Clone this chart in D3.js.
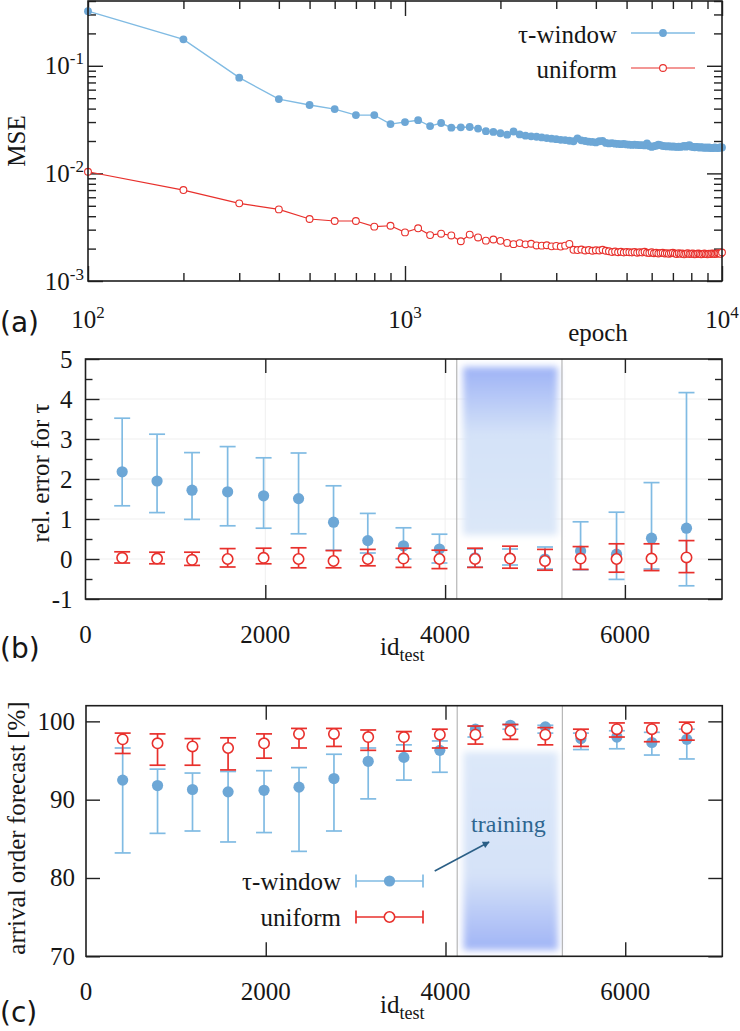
<!DOCTYPE html>
<html>
<head>
<meta charset="utf-8">
<script src="https://d3js.org/d3.v7.min.js"></script>
<style>
  body { margin: 0; background: #fff; }
  svg { display: block; }
</style>
</head>
<body>
<svg id="chart" width="740" height="1031"></svg>
<script>
// ---- panel (a): MSE vs epoch ----
var epochs = [
	100, 200, 300, 400, 500, 600, 700, 800, 900, 1000,
	1100, 1200, 1300, 1400, 1500, 1600, 1700, 1800, 1900, 2000,
	2100, 2200, 2300, 2400, 2500, 2600, 2700, 2800, 2900, 3000,
	3100, 3200, 3300, 3400, 3500, 3600, 3700, 3800, 3900, 4000,
	4100, 4200, 4300, 4400, 4500, 4600, 4700, 4800, 4900, 5000,
	5100, 5200, 5300, 5400, 5500, 5600, 5700, 5800, 5900, 6000,
	6100, 6200, 6300, 6400, 6500, 6600, 6700, 6800, 6900, 7000,
	7100, 7200, 7300, 7400, 7500, 7600, 7700, 7800, 7900, 8000,
	8100, 8200, 8300, 8400, 8500, 8600, 8700, 8800, 8900, 9000,
	9100, 9200, 9300, 9400, 9500, 9600, 9700, 9800, 9900, 10000
];
var mseWindow = [
	0.322, 0.176, 0.0775, 0.049, 0.0432, 0.0396, 0.0348, 0.0348, 0.0287, 0.0300,
	0.0312, 0.0275, 0.0294, 0.0266, 0.0268, 0.0270, 0.0261, 0.0247, 0.0243, 0.0236,
	0.0229, 0.0245, 0.0230, 0.0224, 0.0221, 0.0219, 0.0216, 0.0213, 0.0210, 0.0208,
	0.0205, 0.0204, 0.0201, 0.0199, 0.0212, 0.0203, 0.0200, 0.0197, 0.0196, 0.0194,
	0.0199, 0.0200, 0.0192, 0.0190, 0.0191, 0.0189, 0.0188, 0.0187, 0.0188, 0.0186,
	0.0185, 0.0184, 0.0185, 0.0184, 0.0183, 0.0183, 0.0182, 0.0190, 0.0180, 0.0176,
	0.0179, 0.0181, 0.0185, 0.0183, 0.0180, 0.0179, 0.0178, 0.0179, 0.0177, 0.0178,
	0.0177, 0.0176, 0.0177, 0.0176, 0.0178, 0.0180, 0.0177, 0.0181, 0.0183, 0.0177,
	0.0176, 0.0175, 0.0176, 0.0175, 0.0174, 0.0175, 0.0174, 0.0173, 0.0174, 0.0173,
	0.0174, 0.0172, 0.0173, 0.0172, 0.0174, 0.0173, 0.0172, 0.0173, 0.0175, 0.0174
];
var mseUniform = [
	0.01035, 0.0070, 0.00527, 0.00463, 0.00377, 0.00361, 0.00361, 0.00320, 0.00326, 0.00283,
	0.00309, 0.00267, 0.00275, 0.00265, 0.00234, 0.00270, 0.00254, 0.00237, 0.00243, 0.00236,
	0.00226, 0.00220, 0.00225, 0.00219, 0.00222, 0.00214, 0.00213, 0.00215, 0.00210, 0.00212,
	0.00209, 0.00213, 0.00221, 0.00195, 0.00194, 0.00196, 0.00192, 0.00194, 0.00191, 0.00193,
	0.00192, 0.00195, 0.00191, 0.00189, 0.00186, 0.00188, 0.00185, 0.00187, 0.00184, 0.00186,
	0.00185, 0.00184, 0.00186, 0.00183, 0.00185, 0.00184, 0.00187, 0.00183, 0.00182, 0.00185,
	0.00181, 0.00183, 0.00180, 0.00182, 0.00183, 0.00180, 0.00181, 0.00179, 0.00181, 0.00183,
	0.00180, 0.00178, 0.00181, 0.00179, 0.00180, 0.00177, 0.00179, 0.00181, 0.00178, 0.00179,
	0.00180, 0.00177, 0.00178, 0.00180, 0.00179, 0.00177, 0.00178, 0.00180, 0.00178, 0.00177,
	0.00179, 0.00178, 0.00180, 0.00179, 0.00178, 0.00179, 0.00181, 0.00180, 0.00179, 0.00184
];

// ---- panels (b) and (c): per test-bin results ----
var idTest = [408, 796, 1185, 1581, 1981, 2370, 2759, 3140, 3537, 3937, 4333, 4722, 5111, 5507, 5907, 6296, 6685];

var relWinMean = [2.18, 1.95, 1.72, 1.68, 1.58, 1.51, 0.92, 0.46, 0.33, 0.25, 0.03, 0.02, 0.00, 0.20, 0.12, 0.52, 0.77];
var relWinLo   = [1.33, 1.16, 0.99, 0.83, 0.77, 0.63, 0.22, 0.15, 0.00, -0.10, -0.20, -0.15, -0.25, -0.27, -0.51, -0.25, -0.67];
var relWinHi   = [3.52, 3.12, 2.66, 2.81, 2.53, 2.65, 1.83, 1.14, 0.78, 0.62, 0.25, 0.25, 0.30, 0.93, 1.17, 1.91, 4.16];
var relUniMean = [0.03, 0.01, -0.02, 0.00, 0.03, 0.00, -0.05, 0.00, 0.01, 0.00, 0.00, 0.01, -0.05, 0.01, 0.00, 0.01, 0.04];
var relUniLo   = [-0.10, -0.12, -0.16, -0.20, -0.12, -0.22, -0.22, -0.17, -0.21, -0.24, -0.21, -0.23, -0.28, -0.26, -0.33, -0.29, -0.34];
var relUniHi   = [0.18, 0.17, 0.17, 0.26, 0.27, 0.28, 0.21, 0.24, 0.27, 0.22, 0.27, 0.32, 0.24, 0.31, 0.38, 0.38, 0.46];

var aofWinMean = [92.5, 91.8, 91.3, 91.0, 91.2, 91.6, 92.7, 94.9, 95.4, 96.3, 99.0, 99.5, 99.3, 97.8, 98.0, 97.3, 97.7];
var aofWinLo   = [83.2, 85.7, 86.0, 84.6, 85.8, 83.4, 86.0, 90.1, 92.5, 93.5, 98.0, 99.0, 98.5, 96.4, 96.5, 95.7, 95.2];
var aofWinHi   = [96.6, 93.9, 93.4, 93.6, 93.7, 94.1, 95.8, 96.6, 97.0, 97.5, 99.4, 99.6, 99.5, 98.5, 98.8, 98.6, 99.0];
var aofUniMean = [97.7, 97.2, 96.8, 96.6, 97.2, 98.4, 98.4, 98.0, 98.0, 98.3, 98.3, 98.8, 98.3, 98.3, 99.0, 99.0, 99.1];
var aofUniLo   = [95.9, 94.4, 94.4, 93.8, 95.3, 96.6, 96.8, 96.3, 96.2, 96.6, 97.1, 97.7, 97.0, 96.8, 98.0, 97.4, 97.6];
var aofUniHi   = [98.5, 98.4, 97.8, 97.9, 98.4, 99.1, 99.1, 98.9, 98.7, 99.0, 99.4, 99.6, 99.2, 99.0, 99.8, 99.8, 99.9];

// training window (id range) and the shaded box inside it
var trainRange = [4130, 5300];
var trainBoxX = [4200, 5250];
var trainBoxB = [0.6, 4.8];
var trainBoxC = [70.8, 96.1];

var xTicksBC = [0, 2000, 4000, 6000];
var yTicksB = [-1, 0, 1, 2, 3, 4, 5];
var yTicksC = [70, 80, 90, 100];

var BLUE = '#6da7d6', BLUE_LINE = '#80bbe3', RED = '#e8302c';
var FS = 25;
var SERIF = '"Liberation Serif", "Times New Roman", "DejaVu Serif", serif';
var SANS = '"DejaVu Sans", sans-serif';

var svg = d3.select( '#chart' );
svg.append( 'rect' ).attr( 'width', 740 ).attr( 'height', 1031 ).attr( 'fill', '#fff' );

// every label goes through here so the font is set on the element itself
function label( g, x, y, str, anchor, size ) {
	return g.append( 'text' ).attr( 'x', x ).attr( 'y', y )
		.attr( 'text-anchor', anchor || 'start' )
		.attr( 'font-family', SERIF ).attr( 'font-size', ( size || FS ) + 'px' )
		.attr( 'fill', '#161616' )
		.text( str );
}

var defs = svg.append( 'defs' );
var blur = defs.append( 'filter' ).attr( 'id', 'soft' )
	.attr( 'x', '-20%' ).attr( 'y', '-20%' ).attr( 'width', '140%' ).attr( 'height', '140%' );
blur.append( 'feGaussianBlur' ).attr( 'stdDeviation', 3.5 );

function gradient( id, stops ) {
	var g = defs.append( 'linearGradient' ).attr( 'id', id )
		.attr( 'x1', 0 ).attr( 'y1', 0 ).attr( 'x2', 0 ).attr( 'y2', 1 );
	stops.forEach( function ( s ) {
		g.append( 'stop' ).attr( 'offset', s[0] ).attr( 'stop-color', s[1] );
	} );
}
gradient( 'gradB', [ [ '0%', '#9db2f6' ], [ '40%', '#d4e2f8' ], [ '100%', '#dbe7f8' ] ] );
gradient( 'gradC', [ [ '0%', '#dce8f9' ], [ '62%', '#d5e2f8' ], [ '100%', '#a0b4f6' ] ] );

defs.append( 'marker' ).attr( 'id', 'arrowhead' )
	.attr( 'viewBox', '0 0 10 10' ).attr( 'refX', 9 ).attr( 'refY', 5 )
	.attr( 'markerWidth', 9 ).attr( 'markerHeight', 7 ).attr( 'orient', 'auto' )
	.attr( 'markerUnits', 'userSpaceOnUse' )
	.append( 'path' ).attr( 'd', 'M0,0 L10,5 L0,10 Z' ).attr( 'fill', '#2b5f86' );

// draw tick marks only (inward), labels handled separately
function tickMarks( g, axisFn, scale, values, size, pos, horizontal ) {
	var a = g.append( 'g' )
		.attr( 'transform', horizontal ? 'translate(0,' + pos + ')' : 'translate(' + pos + ',0)' )
		.call( axisFn( scale ).tickValues( values ).tickSize( -size ).tickFormat( '' ) );
	a.select( '.domain' ).remove();
	a.selectAll( 'line' ).attr( 'stroke', '#222' ).attr( 'stroke-width', 1.4 );
}

function frame( x0, y0, x1, y1 ) {
	svg.append( 'rect' ).attr( 'x', x0 ).attr( 'y', y0 )
		.attr( 'width', x1 - x0 ).attr( 'height', y1 - y0 )
		.attr( 'fill', 'none' ).attr( 'stroke', '#1e1e1e' ).attr( 'stroke-width', 1.6 );
}

function powLabel( g, x, y, exp, anchor ) {
	var t = label( g, x, y, null, anchor );
	t.append( 'tspan' ).text( '10' );
	t.append( 'tspan' ).attr( 'dy', -10 ).attr( 'font-size', '17px' ).text( exp );
}

// ================= panel (a) =================
var A = { l: 88, r: 722, t: 1, b: 281 };
var xA = d3.scaleLog().domain( [ 100, 10000 ] ).range( [ A.l, A.r ] );
var yA = d3.scaleLog().domain( [ 0.001, 0.4 ] ).range( [ A.b, A.t ] );
var gA = svg.append( 'g' );

var xMajA = [ 100, 1000, 10000 ];
var xMinA = xA.ticks().filter( function ( d ) { return xMajA.indexOf( d ) < 0; } );
var yMajA = [ 0.001, 0.01, 0.1 ];
var yMinA = yA.ticks().filter( function ( d ) {
	return yMajA.every( function ( m ) { return Math.abs( m - d ) > d * 1e-6; } );
} );

tickMarks( gA, d3.axisBottom, xA, xMajA, 15, A.b, true );
tickMarks( gA, d3.axisBottom, xA, xMinA, 8, A.b, true );
tickMarks( gA, d3.axisTop, xA, xMajA, 15, A.t, true );
tickMarks( gA, d3.axisTop, xA, xMinA, 8, A.t, true );
tickMarks( gA, d3.axisLeft, yA, yMajA, 15, A.l, false );
tickMarks( gA, d3.axisLeft, yA, yMinA, 8, A.l, false );
tickMarks( gA, d3.axisRight, yA, yMajA, 15, A.r, false );
tickMarks( gA, d3.axisRight, yA, yMinA, 8, A.r, false );

xMajA.forEach( function ( d ) {
	powLabel( gA, xA( d ), 328, Math.round( Math.log10( d ) ), 'middle' );
} );
yMajA.forEach( function ( d ) {
	powLabel( gA, 84, yA( d ) + 8.5, Math.round( Math.log10( d ) ), 'end' );
} );

var lineA = d3.line()
	.x( function ( d, i ) { return xA( epochs[i] ); } )
	.y( function ( d ) { return yA( d ); } );

gA.append( 'path' ).datum( mseWindow ).attr( 'd', lineA )
	.attr( 'fill', 'none' ).attr( 'stroke', BLUE_LINE ).attr( 'stroke-width', 1.4 );
gA.selectAll( '.pw' ).data( mseWindow ).enter().append( 'circle' )
	.attr( 'cx', function ( d, i ) { return xA( epochs[i] ); } )
	.attr( 'cy', function ( d ) { return yA( d ); } )
	.attr( 'r', 3.9 ).attr( 'fill', BLUE );

gA.append( 'path' ).datum( mseUniform ).attr( 'd', lineA )
	.attr( 'fill', 'none' ).attr( 'stroke', RED ).attr( 'stroke-width', 1.2 );
gA.selectAll( '.pu' ).data( mseUniform ).enter().append( 'circle' )
	.attr( 'cx', function ( d, i ) { return xA( epochs[i] ); } )
	.attr( 'cy', function ( d ) { return yA( d ); } )
	.attr( 'r', 3.4 ).attr( 'fill', '#fff' ).attr( 'stroke', RED ).attr( 'stroke-width', 1.1 );

frame( A.l, A.t, A.r, A.b );

// legend (a)
[ { name: '\u03c4-window', y: 33, filled: true }, { name: 'uniform', y: 68, filled: false } ].forEach( function ( k ) {
	label( gA, 617, k.y + 10, k.name, 'end' );
	gA.append( 'line' ).attr( 'x1', 631 ).attr( 'x2', 695 ).attr( 'y1', k.y ).attr( 'y2', k.y )
		.attr( 'stroke', k.filled ? BLUE_LINE : RED ).attr( 'stroke-width', k.filled ? 1.4 : 1.2 );
	gA.append( 'circle' ).attr( 'cx', 663 ).attr( 'cy', k.y ).attr( 'r', k.filled ? 3.9 : 3.4 )
		.attr( 'fill', k.filled ? BLUE : '#fff' )
		.attr( 'stroke', k.filled ? 'none' : RED ).attr( 'stroke-width', 1.1 );
} );

label( gA, 0, 0, 'MSE', 'middle' ).attr( 'x', null ).attr( 'y', null )
	.attr( 'transform', 'translate(25,141) rotate(-90)' );
label( gA, 598, 341, 'epoch', 'middle' );
label( svg, 0, 332, '(a)', 'start', 28 ).attr( 'font-family', SANS );

// ================= panels (b) and (c) =================
function errorPanel( cfg ) {
	var P = cfg.box;
	var x = d3.scaleLinear().domain( [ 0, 7080 ] ).range( [ P.l, P.r ] );
	var y = d3.scaleLinear().domain( cfg.yDomain ).range( [ P.b, P.t ] );
	var g = svg.append( 'g' );

	if ( cfg.grid ) {
		g.selectAll( '.gy' ).data( cfg.yTicks ).enter().append( 'line' )
			.attr( 'x1', P.l ).attr( 'x2', P.r ).attr( 'y1', y ).attr( 'y2', y )
			.attr( 'stroke', '#efefef' ).attr( 'stroke-width', 1 );
		g.selectAll( '.gx' ).data( xTicksBC ).enter().append( 'line' )
			.attr( 'x1', x ).attr( 'x2', x ).attr( 'y1', P.t ).attr( 'y2', P.b )
			.attr( 'stroke', '#efefef' ).attr( 'stroke-width', 1 );
	}

	// training window
	g.append( 'rect' )
		.attr( 'x', x( trainBoxX[0] ) ).attr( 'width', x( trainBoxX[1] ) - x( trainBoxX[0] ) )
		.attr( 'y', y( cfg.box2[1] ) ).attr( 'height', y( cfg.box2[0] ) - y( cfg.box2[1] ) )
		.attr( 'fill', 'url(#' + cfg.grad + ')' ).attr( 'filter', 'url(#soft)' );
	g.selectAll( '.tr' ).data( trainRange ).enter().append( 'line' )
		.attr( 'x1', x ).attr( 'x2', x ).attr( 'y1', P.t ).attr( 'y2', P.b )
		.attr( 'stroke', '#a8a8a8' ).attr( 'stroke-width', 1 );

	// ticks
	tickMarks( g, d3.axisBottom, x, xTicksBC.slice( 1 ), 14, P.b, true );
	tickMarks( g, d3.axisTop, x, xTicksBC.slice( 1 ), 14, P.t, true );
	tickMarks( g, d3.axisLeft, y, cfg.yTicks, 14, P.l, false );
	tickMarks( g, d3.axisRight, y, cfg.yTicks, 14, P.r, false );
	if ( cfg.yMinor ) {
		tickMarks( g, d3.axisLeft, y, cfg.yMinor, 7, P.l, false );
		tickMarks( g, d3.axisRight, y, cfg.yMinor, 7, P.r, false );
	}

	xTicksBC.forEach( function ( d ) {
		label( g, x( d ), P.b + 44, d, 'middle' );
	} );
	cfg.yTicks.forEach( function ( d ) {
		label( g, P.l - cfg.yPad, y( d ) + 8.5, d, 'end' );
	} );

	function series( mean, lo, hi, color, filled, r ) {
		var s = g.append( 'g' );
		idTest.forEach( function ( id, i ) {
			var cx = x( id );
			s.append( 'line' ).attr( 'x1', cx ).attr( 'x2', cx ).attr( 'y1', y( lo[i] ) ).attr( 'y2', y( hi[i] ) )
				.attr( 'stroke', color ).attr( 'stroke-width', 1.7 );
			[ lo[i], hi[i] ].forEach( function ( v ) {
				s.append( 'line' ).attr( 'x1', cx - 8 ).attr( 'x2', cx + 8 ).attr( 'y1', y( v ) ).attr( 'y2', y( v ) )
					.attr( 'stroke', color ).attr( 'stroke-width', 1.7 );
			} );
		} );
		s.selectAll( 'circle' ).data( mean ).enter().append( 'circle' )
			.attr( 'cx', function ( d, i ) { return x( idTest[i] ); } )
			.attr( 'cy', y ).attr( 'r', r )
			.attr( 'fill', filled ? BLUE : '#fff' )
			.attr( 'stroke', filled ? 'none' : color ).attr( 'stroke-width', 1.6 );
	}
	series( cfg.win[0], cfg.win[1], cfg.win[2], BLUE_LINE, true, 5.6 );
	series( cfg.uni[0], cfg.uni[1], cfg.uni[2], RED, false, 5.2 );

	frame( P.l, P.t, P.r, P.b );

	// x label with subscript
	var xl = label( g, 380, cfg.xLabelY, null, 'start' );
	xl.append( 'tspan' ).text( 'id' );
	xl.append( 'tspan' ).attr( 'dy', 6 ).attr( 'font-size', '18px' ).text( 'test' );

	label( g, 0, 0, cfg.yLabel.text, 'middle' ).attr( 'x', null ).attr( 'y', null )
		.attr( 'transform', 'translate(' + cfg.yLabel.x + ',' + cfg.yLabel.y + ') rotate(-90)' );

	label( svg, 0, cfg.panelY, cfg.panel, 'start', 28 ).attr( 'font-family', SANS );

	return { x: x, y: y, g: g };
}

errorPanel( {
	box: { l: 85.5, r: 722, t: 359, b: 599 },
	yDomain: [ -1, 5 ], yTicks: yTicksB, yMinor: [ -0.5, 0.5, 1.5, 2.5, 3.5, 4.5 ], yPad: 13,
	grid: true, grad: 'gradB', box2: trainBoxB,
	win: [ relWinMean, relWinLo, relWinHi ], uni: [ relUniMean, relUniLo, relUniHi ],
	xLabelY: 655, yLabel: { x: 49, y: 473, text: 'rel. error for \u03c4' },
	panel: '(b)', panelY: 658
} );

var pc = errorPanel( {
	box: { l: 86, r: 722.3, t: 705.7, b: 956.3 },
	yDomain: [ 70, 102 ], yTicks: yTicksC, yMinor: null, yPad: 11,
	grid: false, grad: 'gradC', box2: trainBoxC,
	win: [ aofWinMean, aofWinLo, aofWinHi ], uni: [ aofUniMean, aofUniLo, aofUniHi ],
	xLabelY: 1013, yLabel: { x: 25, y: 828, text: 'arrival order forecast [%]' },
	panel: '(c)', panelY: 1022
} );

// legend (c): horizontal error-bar keys
[ { name: '\u03c4-window', y: 881, color: BLUE_LINE, filled: true },
  { name: 'uniform', y: 917, color: RED, filled: false } ].forEach( function ( k ) {
	label( pc.g, 341, k.y + 9, k.name, 'end' );
	pc.g.append( 'line' ).attr( 'x1', 356 ).attr( 'x2', 423 ).attr( 'y1', k.y ).attr( 'y2', k.y )
		.attr( 'stroke', k.color ).attr( 'stroke-width', 1.7 );
	[ 356, 423 ].forEach( function ( xx ) {
		pc.g.append( 'line' ).attr( 'x1', xx ).attr( 'x2', xx ).attr( 'y1', k.y - 6.5 ).attr( 'y2', k.y + 6.5 )
			.attr( 'stroke', k.color ).attr( 'stroke-width', 1.7 );
	} );
	pc.g.append( 'circle' ).attr( 'cx', 389.5 ).attr( 'cy', k.y ).attr( 'r', k.filled ? 5.6 : 5.2 )
		.attr( 'fill', k.filled ? BLUE : '#fff' )
		.attr( 'stroke', k.filled ? 'none' : RED ).attr( 'stroke-width', 1.6 );
} );

// "training" annotation
var arrowFrom = [ 3880, 80.9 ], arrowTo = [ 4485, 84.6 ], noteAt = [ 4700, 85.9 ];
pc.g.append( 'line' )
	.attr( 'x1', pc.x( arrowFrom[0] ) ).attr( 'y1', pc.y( arrowFrom[1] ) )
	.attr( 'x2', pc.x( arrowTo[0] ) ).attr( 'y2', pc.y( arrowTo[1] ) )
	.attr( 'stroke', '#2b5f86' ).attr( 'stroke-width', 1.6 ).attr( 'marker-end', 'url(#arrowhead)' );
label( pc.g, pc.x( noteAt[0] ), pc.y( noteAt[1] ), 'training', 'middle', 24 ).attr( 'fill', '#2e6690' );
</script>
</body>
</html>
